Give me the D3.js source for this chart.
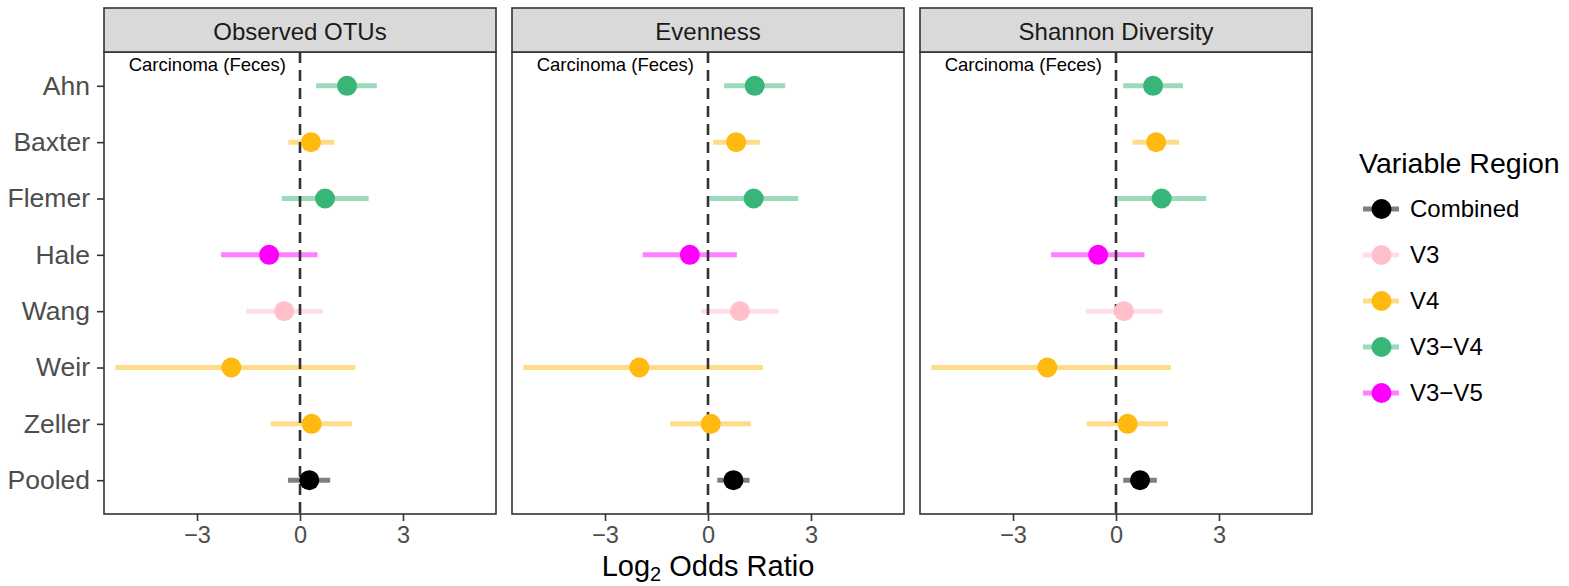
<!DOCTYPE html>
<html>
<head>
<meta charset="utf-8">
<script src="https://cdn.jsdelivr.net/npm/d3@7"></script>
<style>
  body { margin: 0; background: #ffffff; }
  text { font-family: "Liberation Sans", Arial, sans-serif; }
</style>
</head>
<body>
<script>
// ---------- data ----------
const studies = ["Ahn", "Baxter", "Flemer", "Hale", "Wang", "Weir", "Zeller", "Pooled"];
const studyRegion = ["V3\u2212V4", "V4", "V3\u2212V4", "V3\u2212V5", "V3", "V4", "V4", "Combined"];
const metrics = ["Observed OTUs", "Evenness", "Shannon Diversity"];

const obsEst  = [1.37, 0.32, 0.73, -0.90, -0.46, -2.00, 0.34, 0.27];
const obsLo   = [0.47, -0.34, -0.53, -2.30, -1.57, -5.38, -0.85, -0.35];
const obsHi   = [2.24, 1.00, 2.00, 0.51, 0.67, 1.61, 1.51, 0.88];

const evenEst = [1.36, 0.82, 1.33, -0.53, 0.93, -2.00, 0.08, 0.74];
const evenLo  = [0.47, 0.15, 0.04, -1.90, -0.20, -5.38, -1.10, 0.27];
const evenHi  = [2.25, 1.51, 2.63, 0.84, 2.06, 1.60, 1.25, 1.21];

const shanEst = [1.08, 1.17, 1.33, -0.52, 0.23, -2.00, 0.34, 0.70];
const shanLo  = [0.21, 0.48, 0.05, -1.89, -0.88, -5.38, -0.85, 0.21];
const shanHi  = [1.95, 1.84, 2.63, 0.83, 1.36, 1.60, 1.51, 1.19];

const regions = ["Combined", "V3", "V4", "V3\u2212V4", "V3\u2212V5"];
const regionColors = ["#000000", "#FFC0CB", "#FFB90F", "#37B678", "#FF00FF"];

const xTicks = [-3, 0, 3];
const annotation = "Carcinoma (Feces)";
const annotationX = -2.7;

// ---------- layout ----------
const W = 1569, H = 586;
const panelLeft0 = 104, panelW = 392, panelGap = 16;
const stripTop = 8, panelTop = 52, panelBottom = 514;
const dark = "#333333";

const estSets = [obsEst, evenEst, shanEst];
const loSets = [obsLo, evenLo, shanLo];
const hiSets = [obsHi, evenHi, shanHi];

const color = d3.scaleOrdinal().domain(regions).range(regionColors);

const svg = d3.select("body").append("svg")
  .attr("width", W).attr("height", H);

const x = d3.scaleLinear().domain([-5.71, 5.71]).range([0, panelW]);
const y = d3.scalePoint().domain(studies).range([panelTop, panelBottom]).padding(0.6);

metrics.forEach((m, i) => {
  const left = panelLeft0 + i * (panelW + panelGap);
  const g = svg.append("g").attr("transform", `translate(${left},0)`);
  const rows = studies.map((s, j) => ({
    study: s, region: studyRegion[j],
    est: estSets[i][j], lo: loSets[i][j], hi: hiSets[i][j]
  }));

  // panel background
  g.append("rect").attr("x", 0).attr("y", panelTop)
    .attr("width", panelW).attr("height", panelBottom - panelTop)
    .attr("fill", "#ffffff");

  // error bars
  g.selectAll("line.ci").data(rows).enter().append("line")
    .attr("class", "ci")
    .attr("x1", d => x(d.lo)).attr("x2", d => x(d.hi))
    .attr("y1", d => y(d.study)).attr("y2", d => y(d.study))
    .attr("stroke", d => color(d.region))
    .attr("stroke-opacity", 0.5)
    .attr("stroke-width", 5);

  // zero line
  g.append("line")
    .attr("x1", x(0)).attr("x2", x(0))
    .attr("y1", panelTop).attr("y2", panelBottom)
    .attr("stroke", dark).attr("stroke-width", 2.6)
    .attr("stroke-dasharray", "11,7");

  // points
  g.selectAll("circle.pt").data(rows).enter().append("circle")
    .attr("class", "pt")
    .attr("cx", d => x(d.est)).attr("cy", d => y(d.study))
    .attr("r", 10)
    .attr("fill", d => color(d.region));

  // annotation
  g.append("text")
    .attr("x", x(annotationX))
    .attr("y", y("Ahn") - 0.385 * y.step())
    .attr("dy", "0.35em")
    .attr("text-anchor", "middle")
    .attr("font-size", 18.5).attr("fill", "#000")
    .text(annotation);

  // panel border
  g.append("rect").attr("x", 0).attr("y", panelTop)
    .attr("width", panelW).attr("height", panelBottom - panelTop)
    .attr("fill", "none").attr("stroke", dark).attr("stroke-width", 1.6);

  // strip
  g.append("rect").attr("x", 0).attr("y", stripTop)
    .attr("width", panelW).attr("height", panelTop - stripTop)
    .attr("fill", "#D9D9D9").attr("stroke", dark).attr("stroke-width", 1.6);
  g.append("text")
    .attr("x", panelW / 2).attr("y", 39.5)
    .attr("text-anchor", "middle")
    .attr("font-size", 24).attr("fill", "#1A1A1A")
    .text(m);

  // x axis
  const xa = g.append("g").attr("transform", `translate(0,${panelBottom})`)
    .call(d3.axisBottom(x).tickValues(xTicks).tickSize(7).tickPadding(5));
  xa.select(".domain").remove();
  xa.selectAll(".tick line").attr("stroke", dark).attr("stroke-width", 1.6);
  xa.selectAll(".tick text").attr("font-size", 23.5).attr("fill", "#4D4D4D")
    .attr("font-family", "Liberation Sans, Arial, sans-serif");

  // y axis on first panel
  if (i === 0) {
    const ya = g.append("g")
      .call(d3.axisLeft(y).tickSize(7).tickPadding(7));
    ya.select(".domain").remove();
    ya.selectAll(".tick line").attr("stroke", dark).attr("stroke-width", 1.6);
    ya.selectAll(".tick text").attr("font-size", 26.5).attr("fill", "#4D4D4D")
      .attr("font-family", "Liberation Sans, Arial, sans-serif");
  }
});

// x-axis title
const midX = panelLeft0 + 1.5 * panelW + panelGap;
const xt = svg.append("text")
  .attr("x", midX).attr("y", 576)
  .attr("text-anchor", "middle")
  .attr("font-size", 29).attr("fill", "#000");
xt.append("tspan").text("Log");
xt.append("tspan").attr("font-size", 20).attr("dy", 5).text("2");
xt.append("tspan").attr("dy", -5).text(" Odds Ratio");

// legend
const lg = svg.append("g");
lg.append("text")
  .attr("x", 1359).attr("y", 173)
  .attr("font-size", 28.5).attr("fill", "#000")
  .text("Variable Region");
const ly = d3.scalePoint().domain(regions).range([209, 393]);
const items = lg.selectAll("g.item").data(regions).enter().append("g")
  .attr("class", "item")
  .attr("transform", d => `translate(0,${ly(d)})`);
items.append("line")
  .attr("x1", 1363).attr("x2", 1399).attr("y1", 0).attr("y2", 0)
  .attr("stroke", d => color(d)).attr("stroke-opacity", 0.5).attr("stroke-width", 5);
items.append("circle")
  .attr("cx", 1381.5).attr("cy", 0).attr("r", 10)
  .attr("fill", d => color(d));
items.append("text")
  .attr("x", 1410).attr("y", 0).attr("dy", "0.35em")
  .attr("font-size", 24).attr("fill", "#000")
  .text(d => d);
</script>
</body>
</html>
